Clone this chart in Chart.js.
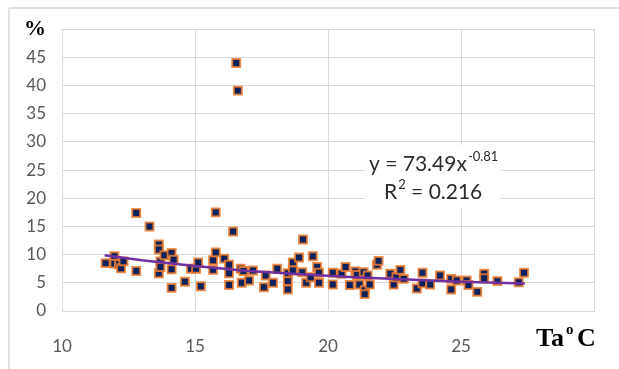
<!DOCTYPE html>
<html>
<head>
<meta charset="utf-8">
<script src="https://cdn.jsdelivr.net/npm/chart.js@4.4.1/dist/chart.umd.min.js"></script>
<style>
    body { margin: 0; background: #fff; }
    #wrap { position: relative; width: 619px; height: 369px; overflow: hidden; }
    #frame { position: absolute; left: 8px; top: 7px; width: 700px; height: 400px; border: 2px solid #e2e2e2; border-radius: 3px; }
    #chartBox { position: absolute; left: 0; top: 0; width: 619px; height: 369px; }
</style>
</head>
<body>
<div id="wrap">
    <div id="frame"></div>
    <div id="chartBox"><canvas id="tempChart"></canvas></div>
</div>
<script>
// Air temperature (Ta, °C) and share (%)
const tempC = [
    11.64, 11.97, 11.97, 12.14, 12.22, 12.31, 12.79, 12.79, 13.29, 13.64,
    13.64, 13.64, 13.70, 13.70, 13.85, 14.12, 14.12, 14.12, 14.20, 14.62,
    14.85, 15.04, 15.12, 15.22, 15.68, 15.68, 15.78, 15.78, 16.10, 16.28,
    16.28, 16.28, 16.43, 16.55, 16.61, 16.72, 16.76, 16.82, 17.03, 17.18,
    17.59, 17.66, 17.93, 18.09, 18.49, 18.49, 18.49, 18.68, 18.68, 18.91,
    19.03, 19.06, 19.18, 19.35, 19.43, 19.59, 19.66, 19.66, 20.18, 20.18,
    20.51, 20.66, 20.82, 21.03, 21.09, 21.18, 21.34, 21.38, 21.38, 21.49,
    21.57, 21.84, 21.90, 22.34, 22.47, 22.57, 22.72, 22.85, 23.34, 23.55,
    23.55, 23.84, 24.21, 24.63, 24.63, 24.84, 25.21, 25.28, 25.61, 25.87,
    25.87, 26.37, 27.17, 27.37
];
const percent = [
    8.5, 9.7, 8.4, 8.3, 7.6, 8.8, 17.4, 7.1, 15.0, 11.8,
    10.9, 6.7, 8.8, 7.8, 9.9, 10.3, 7.4, 4.1, 9.1, 5.2,
    7.5, 7.5, 8.6, 4.4, 9.0, 7.3, 17.5, 10.4, 9.3, 8.2,
    6.7, 4.6, 14.1, 44.0, 39.1, 7.5, 5.0, 7.1, 5.4, 7.2,
    4.2, 6.3, 5.0, 7.5, 6.7, 5.3, 3.8, 8.6, 7.2, 9.5,
    6.9, 12.7, 5.0, 6.0, 9.7, 7.8, 6.8, 5.0, 6.8, 4.7,
    6.6, 7.8, 4.6, 7.0, 6.4, 4.7, 6.9, 3.7, 3.0, 6.3,
    4.7, 8.2, 8.9, 6.6, 4.7, 6.0, 7.3, 5.7, 4.0, 6.8,
    4.9, 4.7, 6.3, 5.7, 3.8, 5.4, 5.4, 4.6, 3.4, 6.6,
    5.8, 5.3, 5.1, 6.8
];

// Power trend line as drawn in the picture
const trendX = [11.6, 13, 15, 17, 19, 21, 23, 25, 27.4];
const trendY = [9.9, 9.0, 8.0, 7.1, 6.5, 6.0, 5.6, 5.2, 4.9];

const xTicks = [10, 15, 20, 25, 30];
const yTicks = [0, 5, 10, 15, 20, 25, 30, 35, 40, 45, 50];

const equationText = 'y = 73.49x';
const equationPower = '-0.81';
const r2Text = '0.216';
const yTitle = '%';
const xTitle = ['Ta', 'o', 'C'];

const gray = '#d9d9d9';
const labelColor = '#595959';
const sansFont = 'Lato, "Open Sans", sans-serif';
const serifFont = '"Liberation Serif", "DejaVu Serif", serif';

// Draws the trend equation and the x axis title
const notesPlugin = {
    id: 'notes',
    afterDraw(chart) {
        const ctx = chart.ctx;
        ctx.save();

        // white box behind the equation
        ctx.fillStyle = '#fff';
        ctx.fillRect(365, 145, 135, 63);

        ctx.fillStyle = '#2b2b2b';
        ctx.textBaseline = 'alphabetic';
        ctx.textAlign = 'left';
        ctx.font = '21px ' + sansFont;
        let x = 369;
        ctx.fillText(equationText, x, 171);
        x += ctx.measureText(equationText).width;
        ctx.font = '13px ' + sansFont;
        ctx.fillText(equationPower, x + 1, 161);

        ctx.font = '21px ' + sansFont;
        x = 384;
        ctx.fillText('R', x, 199);
        x += ctx.measureText('R').width;
        ctx.font = '13px ' + sansFont;
        ctx.fillText('2', x + 1, 189);
        x += ctx.measureText('2').width + 1;
        ctx.font = '21px ' + sansFont;
        ctx.fillText(' = ' + r2Text, x, 199);

        // x axis title "Ta °C"
        ctx.fillStyle = '#000';
        ctx.font = 'bold 26px ' + serifFont;
        ctx.fillText(xTitle[0], 536, 346);
        ctx.font = 'bold 15px ' + serifFont;
        ctx.fillText(xTitle[1], 566, 334);
        ctx.font = 'bold 26px ' + serifFont;
        ctx.fillText(xTitle[2], 577, 346);

        ctx.restore();
    }
};

function init() {
    const points = tempC.map((t, i) => ({ x: t, y: percent[i] }));
    const trend = trendX.map((t, i) => ({ x: t, y: trendY[i] }));

    const ctx = document.getElementById('tempChart').getContext('2d');
    new Chart(ctx, {
        type: 'scatter',
        data: {
            datasets: [
                {
                    label: 'trend',
                    data: trend,
                    showLine: true,
                    borderColor: '#7030a0',
                    borderWidth: 2.5,
                    pointRadius: 0,
                    order: 0
                },
                {
                    label: 'data',
                    data: points,
                    pointStyle: 'rect',
                    pointRadius: 5.6,
                    backgroundColor: '#0a215c',
                    borderColor: 'rgba(237,125,49,0.85)',
                    borderWidth: 2,
                    order: 1
                }
            ]
        },
        options: {
            responsive: true,
            maintainAspectRatio: false,
            animation: false,
            layout: { padding: { top: 28, right: 23, bottom: 0, left: 0 } },
            plugins: {
                legend: { display: false },
                tooltip: { enabled: false }
            },
            scales: {
                x: {
                    type: 'linear',
                    min: 10,
                    max: 30,
                    afterBuildTicks: axis => { axis.ticks = xTicks.map(v => ({ value: v })); },
                    afterFit: axis => { axis.height = 58; },
                    grid: { color: gray, lineWidth: 1, drawTicks: false },
                    border: { color: gray, width: 1 },
                    ticks: {
                        autoSkip: false,
                        maxRotation: 0,
                        padding: 25,
                        color: labelColor,
                        font: { family: sansFont, size: 17 },
                        callback: v => (v === 30 ? '' : String(v))
                    }
                },
                y: {
                    type: 'linear',
                    min: 0,
                    max: 50,
                    afterBuildTicks: axis => { axis.ticks = yTicks.map(v => ({ value: v })); },
                    afterFit: axis => { axis.width = 62; },
                    grid: { color: gray, lineWidth: 1, drawTicks: false },
                    border: { color: gray, width: 1 },
                    ticks: {
                        autoSkip: false,
                        padding: 16,
                        color: c => (c.tick && c.tick.value === 50 ? '#000' : labelColor),
                        font: c => (c.tick && c.tick.value === 50
                            ? { family: serifFont, size: 22, weight: 'bold' }
                            : { family: sansFont, size: 17 }),
                        callback: v => (v === 50 ? yTitle : String(v))
                    }
                }
            }
        },
        plugins: [notesPlugin]
    });
}

document.addEventListener('DOMContentLoaded', init);
</script>
</body>
</html>
